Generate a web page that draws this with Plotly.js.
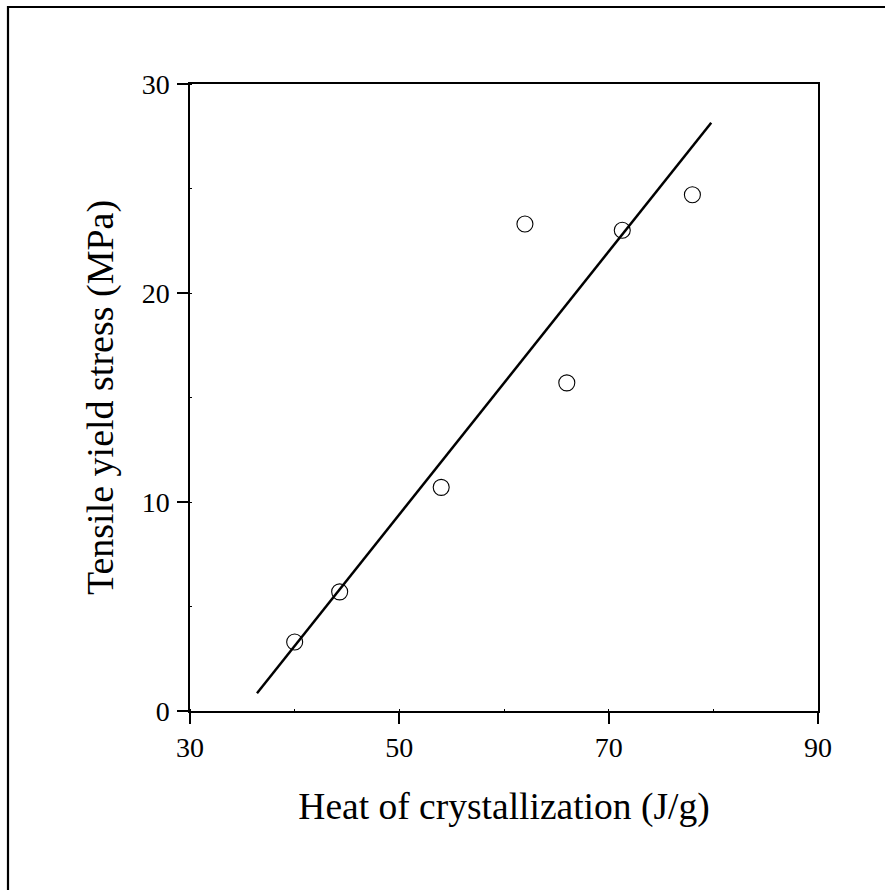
<!DOCTYPE html>
<html>
<head>
<meta charset="utf-8">
<script src="https://cdn.plot.ly/plotly-3.0.1.min.js"></script>
<style>html,body{margin:0;padding:0;background:#fff;}#chart{width:885px;height:890px;}</style>
</head>
<body>
<div id="chart"></div>
<script>
// Measured data: heat of crystallization (J/g) vs tensile yield stress (MPa)
var heatOfCrystallization = [40.0, 44.3, 54.0, 62.0, 66.0, 71.3, 78.0];
var tensileYieldStress = [3.3, 5.7, 10.7, 23.3, 15.7, 23.0, 24.7];
// Linear fit line end points as drawn
var fitX = [36.4, 79.8];
var fitY = [0.85, 28.15];
var xTickVals = [30, 50, 70, 90];
var yTickVals = [0, 10, 20, 30];

var fontFamily = '"Liberation Serif", "Times New Roman", serif';

var traces = [
  {
    x: fitX, y: fitY, type: 'scatter', mode: 'lines',
    line: {color: '#000', width: 2.5}, hoverinfo: 'skip', showlegend: false
  },
  {
    x: heatOfCrystallization, y: tensileYieldStress, type: 'scatter', mode: 'markers',
    marker: {symbol: 'circle-open', size: 16, color: '#000', line: {color: '#000', width: 1.1}},
    showlegend: false
  }
];

var axisCommon = {
  showgrid: false, zeroline: false, showline: true, linecolor: '#000', linewidth: 1.7,
  mirror: true, ticks: 'outside', ticklen: 11, tickwidth: 1.7, tickcolor: '#000',
  tickfont: {family: fontFamily, size: 28, color: '#000'},
  minor: {ticks: 'inside', ticklen: 2, tickwidth: 1, tickcolor: '#000'}
};

var layout = {
  width: 885, height: 890,
  margin: {l: 190, r: 67, t: 84, b: 179},
  paper_bgcolor: '#fff', plot_bgcolor: '#fff',
  font: {family: fontFamily, color: '#000'},
  xaxis: Object.assign({}, axisCommon, {
    range: [30, 90], tickmode: 'array', tickvals: xTickVals, ticktext: xTickVals.map(String),
    minor: Object.assign({}, axisCommon.minor, {dtick: 10, tick0: 30}),
    title: {text: 'Heat of crystallization (J/g)', font: {family: fontFamily, size: 37.5, color: '#000'}, standoff: 30}
  }),
  yaxis: Object.assign({}, axisCommon, {
    range: [0, 30], tickmode: 'array', tickvals: yTickVals, ticktext: yTickVals.map(String),
    ticklabelstandoff: 2,
    minor: Object.assign({}, axisCommon.minor, {dtick: 5, tick0: 0}),
    title: {text: 'Tensile yield stress (MPa)', font: {family: fontFamily, size: 38, color: '#000'}, standoff: 16}
  }),
  shapes: [{
    type: 'rect', xref: 'paper', yref: 'paper',
    x0: (8 - 190) / 628, x1: (900 - 190) / 628,
    y0: -(900 - 711) / 627, y1: 1 + (84 - 7) / 627,
    line: {color: '#000', width: 2.2}, fillcolor: 'rgba(0,0,0,0)', layer: 'above'
  }]
};

Plotly.newPlot('chart', traces, layout, {staticPlot: true, displayModeBar: false});
</script>
</body>
</html>
